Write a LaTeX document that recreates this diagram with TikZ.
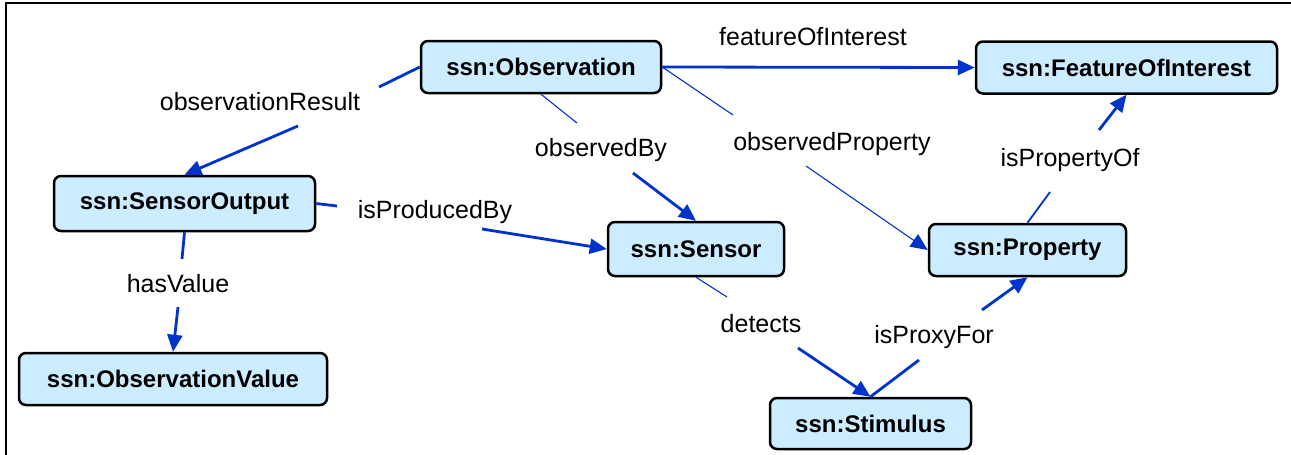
\documentclass[tikz,border=0pt]{standalone}
\usepackage{fontspec}
\setmainfont{Liberation Sans}
\usetikzlibrary{arrows.meta}
\definecolor{linkblue}{RGB}{0,51,204}
\definecolor{conceptfill}{RGB}{204,236,255}
\begin{document}
\begin{tikzpicture}[x=1pt,y=-1pt,
  concept/.style={draw=black, line width=2.5pt, fill=conceptfill, rounded corners=7pt,
    inner sep=0pt, font=\fontsize{24}{28}\selectfont\bfseries},
  linkname/.style={anchor=base, inner sep=0pt, font=\fontsize{25}{30}\selectfont},
  heavy/.style={draw=linkblue, line width=2.8pt},
  medium/.style={draw=linkblue, line width=1.8pt},
  light/.style={draw=linkblue, line width=1.1pt},
  tip/.style={-{Triangle[length=17pt,width=15pt]}},
]
\useasboundingbox (0,0) rectangle (1291,455);
% frame
\draw[line width=1.6pt] (6,455) -- (6,3) -- (1291,3);

% concepts
\node[concept, minimum width=240pt, minimum height=52pt] (obs)  at (541,67)      {ssn:Observation};
\node[concept, minimum width=301pt, minimum height=52pt] (foi)  at (1126.5,67.5) {ssn:FeatureOfInterest};
\node[concept, minimum width=261pt, minimum height=55pt] (so)   at (184.5,203.5) {ssn:SensorOutput};
\node[concept, minimum width=176pt, minimum height=54pt] (sen)  at (696,249)     {ssn:Sensor};
\node[concept, minimum width=197pt, minimum height=52pt] (prop) at (1027.5,250)  {ssn:Property};
\node[concept, minimum width=201pt, minimum height=51pt] (stim) at (870.5,423.5) {ssn:Stimulus};
\node[concept, minimum width=308pt, minimum height=52pt] (ov)   at (173,379)     {ssn:ObservationValue};

% link names
\node[linkname] (lor) at (260,110)  {observationResult};
\node[linkname] (lfi) at (813,45)   {featureOfInterest};
\node[linkname] (lob) at (601,156)  {observedBy};
\node[linkname] (lop) at (832,150)  {observedProperty};
\node[linkname] (lip) at (1070,166) {isPropertyOf};
\node[linkname] (lpb) at (435,218)  {isProducedBy};
\node[linkname] (lhv) at (178,292)  {hasValue};
\node[linkname] (lde) at (761,332)  {detects};
\node[linkname] (lpx) at (934,343)  {isProxyFor};

% break points where a connector meets its link name
\coordinate (or1) at (379,87);   \coordinate (or2) at (298,126);
\coordinate (ob1) at (577,123);  \coordinate (ob2) at (633,173);
\coordinate (op1) at (733,115);  \coordinate (op2) at (806,166);
\coordinate (ip1) at (1050,192); \coordinate (ip2) at (1099,130);
\coordinate (pb1) at (337,206);  \coordinate (pb2) at (482,229);
\coordinate (hv1) at (182,259);  \coordinate (hv2) at (178,307);
\coordinate (de1) at (727,297);  \coordinate (de2) at (798,348);
\coordinate (px1) at (919,360);  \coordinate (px2) at (982,310);

% connectors
\draw[heavy] (obs.west) -- (or1);
\draw[heavy,tip] (or2) -- (so.north);

\draw[heavy,tip] (obs.east) -- (foi.west);

\draw[light] (obs.south) -- (ob1);
\draw[heavy,tip] (ob2) -- (sen.north);

\draw[light] (obs.east) -- (op1);
\draw[light,tip] (op2) -- (prop.west);

\draw[medium] (prop.north) -- (ip1);
\draw[heavy,tip] (ip2) -- (foi.south);

\draw[heavy] (so.east) -- (pb1);
\draw[heavy,tip] (pb2) -- (sen.west);

\draw[heavy] (so.south) -- (hv1);
\draw[heavy,tip] (hv2) -- (ov.north);

\draw[light] (sen.south) -- (de1);
\draw[heavy,tip] (de2) -- (stim.north);

\draw[heavy] (stim.north) -- (px1);
\draw[heavy,tip] (px2) -- (prop.south);
\end{tikzpicture}
\end{document}
